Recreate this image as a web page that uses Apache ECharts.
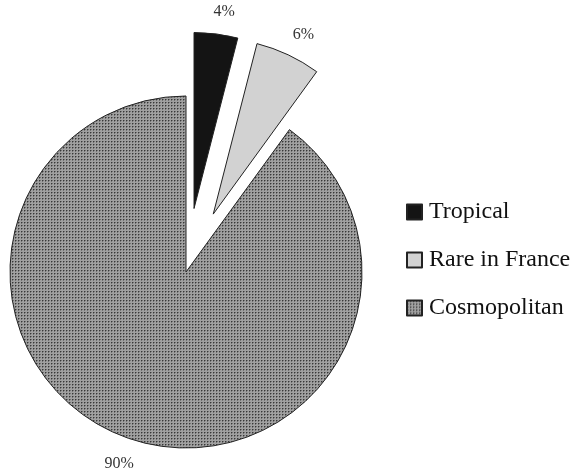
<!DOCTYPE html>
<html>
<head>
<meta charset="utf-8">
<script src="https://cdn.jsdelivr.net/npm/echarts@6/dist/echarts.min.js"></script>
<style>
  html, body { margin: 0; padding: 0; background: #fff; }
  #chart { width: 576px; height: 473px; }
</style>
</head>
<body>
<div id="chart"></div>
<script>
// Share of species by distribution group (percent)
const categories = ['Tropical', 'Rare in France', 'Cosmopolitan'];
const shares = [4, 6, 90];
const exploded = [true, true, false];

// Fine dotted grey fill used for the large slice
function dotPattern() {
  const c = document.createElement('canvas');
  c.width = 3; c.height = 3;
  const g = c.getContext('2d');
  g.fillStyle = '#a0a0a0'; g.fillRect(0, 0, 3, 3);
  g.fillStyle = '#727272'; g.fillRect(1, 0, 1, 1); g.fillRect(0, 1, 1, 1);
  g.fillStyle = '#383838'; g.fillRect(0, 0, 1, 1);
  return c;
}

const fills = ['#141414', '#d2d2d2', { image: dotPattern(), repeat: 'repeat' }];

const chart = echarts.init(document.getElementById('chart'), null, { renderer: 'canvas' });
chart.setOption({
  animation: false,
  backgroundColor: '#ffffff',
  legend: {
    orient: 'vertical',
    left: 406,
    top: 200,
    padding: 0,
    itemWidth: 15,
    itemHeight: 15,
    itemGap: 24,
    selectedMode: false,
    icon: 'rect',
    textStyle: { fontFamily: 'Liberation Serif', fontSize: 24, color: '#111', padding: [0, 0, 0, 2] },
    data: categories
  },
  series: [{
    type: 'pie',
    center: [186, 272],
    radius: [0, 176],
    startAngle: 90,
    clockwise: true,
    selectedMode: 'multiple',
    selectedOffset: 64,
    avoidLabelOverlap: false,
    emphasis: { disabled: true },
    itemStyle: { borderColor: '#222', borderWidth: 1 },
    label: {
      show: true,
      position: 'outside',
      formatter: '{c}%',
      fontFamily: 'Liberation Serif',
      fontSize: 16,
      color: '#333'
    },
    labelLine: { show: false, length: 24, length2: 0 },
    labelLayout: { align: 'center', dy: 2 },
    data: categories.map((name, i) => ({
      name: name,
      value: shares[i],
      selected: exploded[i],
      itemStyle: { color: fills[i] }
    }))
  }]
});
</script>
</body>
</html>
